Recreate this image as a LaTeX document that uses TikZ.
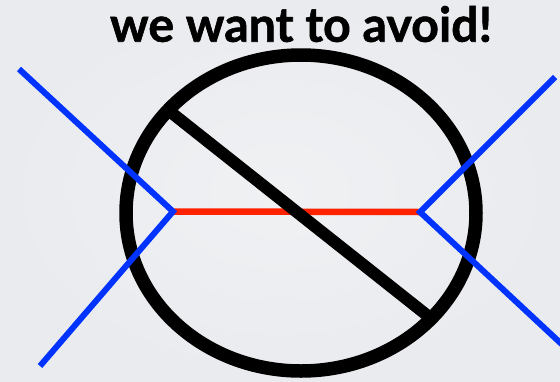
\documentclass[tikz,border=0pt]{standalone}
\usepackage{fontspec}
\setmainfont{Lato}
\newfontfamily\heavyfont[BoldFeatures={FakeBold=1.2}]{Lato}
\definecolor{bgc}{RGB}{233,235,239}
\definecolor{bgl}{RGB}{240,241,243}
\definecolor{blueline}{RGB}{0,51,255}
\definecolor{redline}{RGB}{255,34,0}
\begin{document}
\begin{tikzpicture}[x=1pt,y=-1pt,
  blueseg/.style={draw=blueline,line width=6pt},
  redseg/.style={draw=redline,line width=6.5pt},
  blackseg/.style={draw=black,line width=12pt},
  ring/.style={draw=black,line width=13.5pt}]
\fill[inner color=bgl,outer color=bgc] (0,0) rectangle (560,381);
\useasboundingbox (0,0) rectangle (560,381);
\node (title) at (301,24) {\resizebox{382pt}{!}{\heavyfont\bfseries we want to avoid!}};
\coordinate (L) at (173,211.5);
\coordinate (R) at (420,212);
\coordinate (LT) at (19,69);
\coordinate (LB) at (40,366);
\coordinate (RT) at (555,77);
\coordinate (RB) at (568,350);
\coordinate (D1) at (168,110);
\coordinate (D2) at (428,316);
\draw[redseg] (L) -- (R);
\draw[blackseg] (D1) -- (D2);
\draw[ring] (301,213) ellipse [x radius=175, y radius=158];
\draw[blueseg] (LT) -- (L) -- (LB);
\draw[blueseg] (RT) -- (R) -- (RB);
\end{tikzpicture}
\end{document}
